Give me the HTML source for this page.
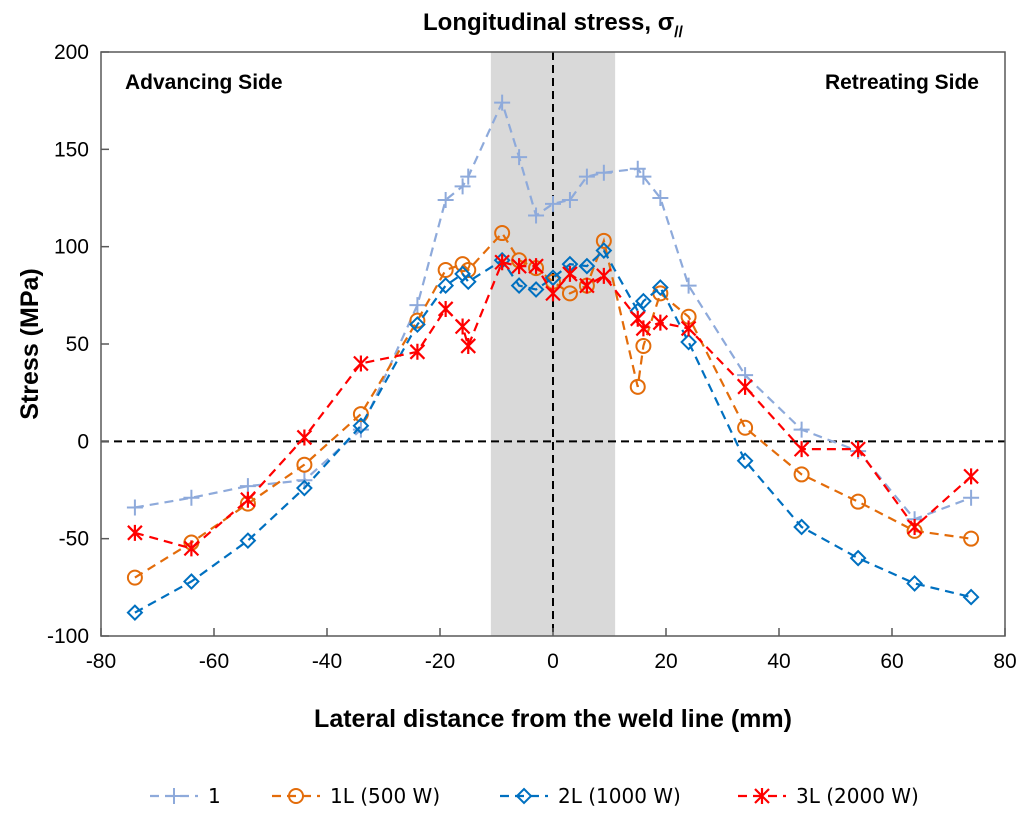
<!DOCTYPE html>
<html><head><meta charset="utf-8"><style>
html,body{margin:0;padding:0;background:#fff;}
svg text{font-family:"Liberation Sans",sans-serif;}
</style></head><body>
<svg id="chart" width="1024" height="819" xmlns="http://www.w3.org/2000/svg">
<g id="plot"></g>
</svg>
<script>
const xs = [-74,-64,-54,-44,-34,-24,-19,-16,-15,-9,-6,-3,0,3,6,9,15,16,19,24,34,44,54,64,74];
const s1 = [-34,-29,-23,-20,6,70,124,131,136,174,146,116,122,124,136,138,140,136,125,80,34,6,-5,-40,-29];
const s1L = [-70,-52,-32,-12,14,62,88,91,88,107,93,89,82,76,80,103,28,49,76,64,7,-17,-31,-46,-50];
const s2L = [-88,-72,-51,-24,8,60,80,86,82,93,80,78,84,91,90,98,67,72,79,51,-10,-44,-60,-73,-80];
const s3L = [-47,-55,-30,2,40,46,68,59,49,92,90,90,76,86,80,85,63,58,61,58,28,-4,-4,-44,-18];
const xTicks = [-80,-60,-40,-20,0,20,40,60,80];
const yTicks = [-100,-50,0,50,100,150,200];

const L=101,R=1005,T=52,B=636;
const X=v=>L+(v+80)/160*(R-L);
const Y=v=>B-(v+100)/300*(B-T);
const NS="http://www.w3.org/2000/svg";
const g=document.getElementById('plot');
function mk(tag,attrs,parent){const e=document.createElementNS(NS,tag);for(const k in attrs)e.setAttribute(k,attrs[k]);(parent||g).appendChild(e);return e;}

let band=mk('rect',{x:X(-11),y:T,width:X(11)-X(-11),height:B-T,fill:'#d9d9d9'});


let zl=mk('line',{x1:L,x2:R,y1:Y(0),y2:Y(0),stroke:'#000','stroke-width':2,'stroke-dasharray':'8,5'});


let vl=mk('line',{x1:X(0),x2:X(0),y1:T,y2:B,stroke:'#000','stroke-width':2,'stroke-dasharray':'8,5'});


let fr=mk('rect',{x:L,y:T,width:R-L,height:B-T,fill:'none',stroke:'#595959','stroke-width':1.5});



xTicks.forEach(t=>{
  mk('line',{x1:X(t),x2:X(t),y1:B,y2:B-8,stroke:'#595959','stroke-width':1.5});
  const tx=mk('text',{x:X(t),y:B+32,'font-size':21,'text-anchor':'middle',fill:'#000'});tx.textContent=t;
  
  
});
yTicks.forEach(t=>{
  mk('line',{x1:L,x2:L+8,y1:Y(t),y2:Y(t),stroke:'#595959','stroke-width':1.5});
  const tx=mk('text',{x:L-12,y:Y(t)+7,'font-size':21,'text-anchor':'end',fill:'#000'});tx.textContent=t;
  
  
});

function marker(type,x,y,c,parent){
  const p=parent||g;
  if(type==='plus'){mk('path',{d:`M${x-8},${y}H${x+8}M${x},${y-8}V${y+8}`,stroke:c,'stroke-width':2,fill:'none'},p);}
  else if(type==='circle'){mk('circle',{cx:x,cy:y,r:7,stroke:c,'stroke-width':2,fill:'none'},p);}
  else if(type==='diamond'){mk('path',{d:`M${x},${y-7}L${x+7},${y}L${x},${y+7}L${x-7},${y}Z`,stroke:c,'stroke-width':2,fill:'none'},p);}
  else {mk('path',{d:`M${x-7},${y-7}L${x+7},${y+7}M${x-7},${y+7}L${x+7},${y-7}M${x},${y-8}V${y+8}`,stroke:c,'stroke-width':2.2,fill:'none'},p);}
}
const series=[
  {name:'series-1',vals:s1,c:'#8eaadb',m:'plus'},
  {name:'series-1L',vals:s1L,c:'#e36c0a',m:'circle'},
  {name:'series-2L',vals:s2L,c:'#0070c0',m:'diamond'},
  {name:'series-3L',vals:s3L,c:'#ff0000',m:'star'}
];
series.forEach(s=>{
  const grp=mk('g',{});
  
  
  mk('polyline',{points:xs.map((x,i)=>X(x)+','+Y(s.vals[i])).join(' '),fill:'none',stroke:s.c,'stroke-width':2.2,'stroke-dasharray':'9,6'},grp);
  xs.forEach((x,i)=>marker(s.m,X(x),Y(s.vals[i]),s.c,grp));
});

function txt(str,attrs,name){const t=mk('text',attrs);t.textContent=str;return t;}
txt('Advancing Side',{x:125,y:89,'font-size':21,'font-weight':'bold'},'advancing-side-label');
txt('Retreating Side',{x:979,y:89,'font-size':21,'font-weight':'bold','text-anchor':'end'},'retreating-side-label');
const title=mk('text',{x:553,y:30,'font-size':24,'font-weight':'bold','text-anchor':'middle'});


title.innerHTML='Longitudinal stress, σ<tspan font-size="16" dy="7">//</tspan>';
txt('Lateral distance from the weld line (mm)',{x:553,y:727,'font-size':25,'font-weight':'bold','text-anchor':'middle'},'x-axis-title');
const yt=txt('Stress (MPa)',{x:0,y:0,'font-size':25,'font-weight':'bold','text-anchor':'middle',transform:`translate(38,${(T+B)/2}) rotate(-90)`},'y-axis-title');

const legend=[['1',150],['1L (500 W)',272],['2L (1000 W)',500],['3L (2000 W)',738]];
legend.forEach((l,i)=>{
  const lg=mk('g',{});
  
  
  const s=series[i];const x0=l[1],y0=796;
  mk('line',{x1:x0,x2:x0+48,y1:y0,y2:y0,stroke:s.c,'stroke-width':2.2,'stroke-dasharray':'9,6'},lg);
  marker(s.m,x0+24,y0,s.c,lg);
  const t=mk('text',{x:x0+58,y:y0+7,'font-size':20,style:'font-family:"DejaVu Sans",sans-serif'},lg);t.textContent=l[0];
});
</script>
</body></html>
